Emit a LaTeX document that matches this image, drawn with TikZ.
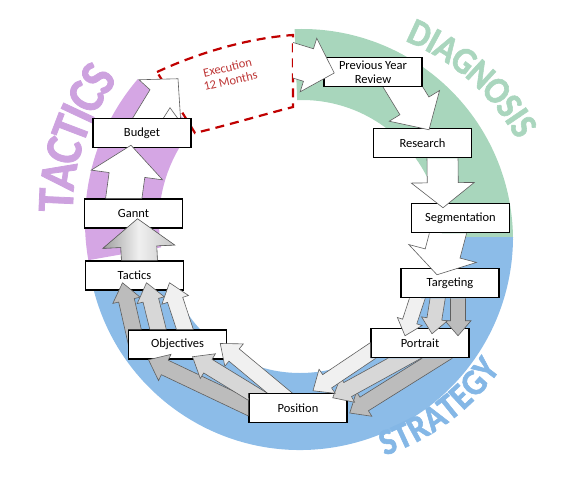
\documentclass[tikz,border=0pt]{standalone}
\usepackage{fontspec}
\setmainfont{Carlito}
\newfontfamily\ringfont{Carlito}[FakeStretch=0.9, FakeBold=1.5]
\usetikzlibrary{calc}

\definecolor{ringpurple}{RGB}{213,166,228}
\definecolor{ringgreen}{RGB}{168,214,188}
\definecolor{ringblue}{RGB}{140,188,232}
\definecolor{tacticsink}{RGB}{205,162,223}
\definecolor{diagink}{RGB}{170,214,190}
\definecolor{stratink}{RGB}{132,183,230}
\definecolor{exedash}{RGB}{192,0,0}
\definecolor{exeink}{RGB}{190,55,55}
\definecolor{arrowgray}{RGB}{95,95,95}
\definecolor{arrowlight}{RGB}{240,240,240}
\definecolor{arrowmid}{RGB}{215,215,215}
\definecolor{arrowdark}{RGB}{188,188,188}

\newcommand\blockarrow[6][]{%
  \coordinate (ba-t) at (#2);
  \coordinate (ba-b) at (#3);
  \coordinate (ba-a) at ($(ba-t)!-12pt!(ba-b)$);
  \coordinate (ba-n) at ($(ba-b)!#6pt!(ba-a)$);
  \filldraw[#1] ($(ba-a)!#4pt!90:(ba-b)$) -- ($(ba-n)!#4pt!90:(ba-b)$)
    -- ($(ba-n)!#5pt!90:(ba-b)$) -- (ba-b) -- ($(ba-n)!#5pt!-90:(ba-b)$)
    -- ($(ba-n)!#4pt!-90:(ba-b)$) -- ($(ba-a)!#4pt!-90:(ba-b)$) -- cycle;}

\newcommand\cutstage[1]{%
  \clip (-5,-5) -- (577,-5) -- (577,481) -- (-5,481) -- cycle
    (#1.north west) -- (#1.south west) -- (#1.south east) -- (#1.north east) -- cycle;}

\begin{document}
\begin{tikzpicture}[x=1pt,y=-1pt,
    stagebox/.style={draw=black, line width=1.5pt, fill=white, minimum width=98pt,
      minimum height=29pt, inner sep=1pt, align=center, font=\fontsize{12.5}{14}\selectfont},
    ringletter/.style={inner sep=0pt, font=\ringfont\bfseries\fontsize{#1}{#1}\selectfont},
    arrowline/.style={draw=arrowgray, line width=0.6pt, line join=miter},
    whitearrow/.style={arrowline, fill=white},
    lightarrow/.style={arrowline, fill=arrowlight},
    midarrow/.style={arrowline, fill=arrowmid},
    darkarrow/.style={arrowline, fill=arrowdark},
    steelarrow/.style={arrowline, left color=black!38, right color=black!22, middle color=black!6},
    exeline/.style={draw=exedash, line width=2.2pt, dash pattern=on 9pt off 6pt}]
  \useasboundingbox (0,0) rectangle (572,476);

  \coordinate (pc) at (305,222);
  \coordinate (gc) at (302,240);
  \coordinate (bc) at (300,237);
  \fill[ringpurple] ($(pc)+(-190:220)$) arc[start angle=-190, end angle=-139.5, radius=220]
    -- ($(pc)+(-139.5:146)$) arc[start angle=-139.5, end angle=-190, radius=146] -- cycle;
  \fill[ringgreen] ($(gc)+(-92:211)$) arc[start angle=-92, end angle=0, radius=211]
    -- ($(gc)+(0:140)$) arc[start angle=0, end angle=-92, radius=140] -- cycle;
  \fill[ringblue] ($(bc)+(170:213)$) arc[start angle=170, end angle=0, radius=213]
    -- ($(bc)+(0:136)$) arc[start angle=0, end angle=170, radius=136] -- cycle;

  % ring titles, one letter at a time
  \foreach \ch/\ang [count=\i] in {T/177.5, A/171.3, C/164.9, T/159.2, I/154.9, C/150.4, S/144.8}
    \node[ringletter=52, text=tacticsink, rotate=\ang-90] (tac\i) at ($(285,210)+(-\ang:229)$) {\ch};
  \foreach \ch/\ang [count=\i] in {D/65.2, I/61.5, A/57.9, G/52.8, N/47.5, O/42.0, S/37.3, I/34.2, S/31.2}
    \node[ringletter=38, text=diagink, rotate=\ang-90] (diag\i) at ($(320,250)+(-\ang:238)$) {\ch};
  \foreach \ch/\ang [count=\i] in {S/-69.4, T/-65.3, R/-60.8, A/-55.8, T/-51.2, E/-47.0, G/-42.2, Y/-37.3}
    \node[ringletter=37, text=stratink, rotate=\ang+90] (strat\i) at ($(310,235)+(-\ang:221)$) {\ch};

  \filldraw[exeline, fill=white] (157,72) .. controls (200,52) and (250,38) .. (293,35)
    -- (293,107) .. controls (262,115) and (228,125) .. (195,133) -- cycle;
  \node[text=exeink, rotate=13, align=center, font=\fontsize{12.5}{13.5}\selectfont]
    (exelabel) at (229,74) {Execution\\12 Months};
  \coordinate (exe-out) at (276,55);

  \node[stagebox] (pyr) at (373,72) {Previous Year\\Review};
  \node[stagebox] (research) at (422.5,143) {Research};
  \node[stagebox] (segmentation) at (460.5,218) {Segmentation};
  \node[stagebox] (targeting) at (450,283) {Targeting};
  \node[stagebox] (portrait) at (420,343) {Portrait};
  \node[stagebox] (position) at (298,408) {Position};
  \node[stagebox] (objectives) at (177.5,344.5) {Objectives};
  \node[stagebox] (tactics) at (134.5,275.5) {Tactics};
  \node[stagebox] (gannt) at (133.5,213.5) {Gannt};
  \node[stagebox] (budget) at (142,133) {Budget};

  \begin{scope}
    \cutstage{budget}
    \filldraw[whitearrow] ($(budget.north)+(-14,8)$) -- ($(budget.north)+(8,-28)$)
      -- ($(budget.north)+(-3,-38)$) -- ($(budget.north)+(36,-39)$)
      -- ($(budget.north)+(39,8)$) -- cycle;
    \draw[arrowline] ($(budget.north)+(21,1)$) -- ($(budget.north)+(28,-10)$) -- ($(budget.north)+(36,1)$);
  \end{scope}
  \begin{scope}
    \clip (293,0) rectangle (572,476);
    \blockarrow[whitearrow]{exe-out}{$(pyr.west)+(11,1)$}{17}{28}{27}
  \end{scope}
  \begin{scope}
    \cutstage{pyr}
    \blockarrow[whitearrow]{$(pyr.south)+(27,-5)$}{$(research.north)+(6.5,2)$}{17}{29.5}{28}
  \end{scope}
  \begin{scope}
    \cutstage{research}
    \blockarrow[whitearrow]{$(research.south)+(20,-2)$}{$(segmentation.north)+(-17.5,5)$}{15.5}{31.5}{25}
  \end{scope}
  \begin{scope}
    \cutstage{segmentation}
    \blockarrow[whitearrow]{$(segmentation.south)+(-12,-2)$}{$(targeting.north)+(-13,7)$}{18}{35}{22}
  \end{scope}
  \begin{scope}
    \cutstage{targeting}
    \blockarrow[darkarrow]{$(targeting.south)+(8,-2)$}{$(portrait.north)+(38,8)$}{7.5}{13}{15}
    \blockarrow[midarrow]{$(targeting.south)+(-12,-2)$}{$(portrait.north)+(12,6)$}{7.5}{13}{15}
    \blockarrow[lightarrow]{$(targeting.south)+(-32,-2)$}{$(portrait.north)+(-15,8)$}{7.5}{13}{15}
  \end{scope}
  \begin{scope}
    \cutstage{portrait}
    \blockarrow[darkarrow]{$(portrait.south)+(22,-3)$}{$(position.east)+(2,5)$}{8}{14.5}{17}
    \blockarrow[midarrow]{$(portrait.south)+(-10,-3)$}{$(position.north east)+(-15,5)$}{8}{14.5}{17}
    \blockarrow[lightarrow]{$(portrait.west)+(8,4)$}{$(position.north)+(15,-2)$}{8}{14.5}{17}
  \end{scope}
  \begin{scope}
    \cutstage{position}
    \blockarrow[darkarrow]{$(position.west)+(2,0)$}{$(objectives.south)+(-29,0)$}{8}{14.5}{18}
    \blockarrow[midarrow]{$(position.north west)+(8,3)$}{$(objectives.south)+(15,-3)$}{8}{14.5}{18}
    \blockarrow[lightarrow]{$(position.north)+(-15,3)$}{$(objectives.east)+(-7,-1)$}{8}{14.5}{18}
  \end{scope}
  \begin{scope}
    \cutstage{objectives}
    \blockarrow[darkarrow]{$(objectives.north)+(-44,2)$}{$(tactics.south)+(-12,-8)$}{8}{14}{18}
    \blockarrow[midarrow]{$(objectives.north)+(-19,2)$}{$(tactics.south)+(12,-8)$}{8}{14}{18}
    \blockarrow[lightarrow]{$(objectives.north)+(8,2)$}{$(tactics.south)+(35,-8)$}{8}{14}{18}
  \end{scope}
  \begin{scope}
    \cutstage{tactics}
    \blockarrow[steelarrow]{$(tactics.north)+(5,2)$}{$(gannt.south)+(4,-10)$}{18}{36}{28}
  \end{scope}
  \begin{scope}
    \cutstage{gannt}
    \blockarrow[whitearrow]{$(gannt.north)+(-10,2)$}{$(budget.south)+(-11,-3)$}{18}{36}{30}
  \end{scope}
\end{tikzpicture}
\end{document}
